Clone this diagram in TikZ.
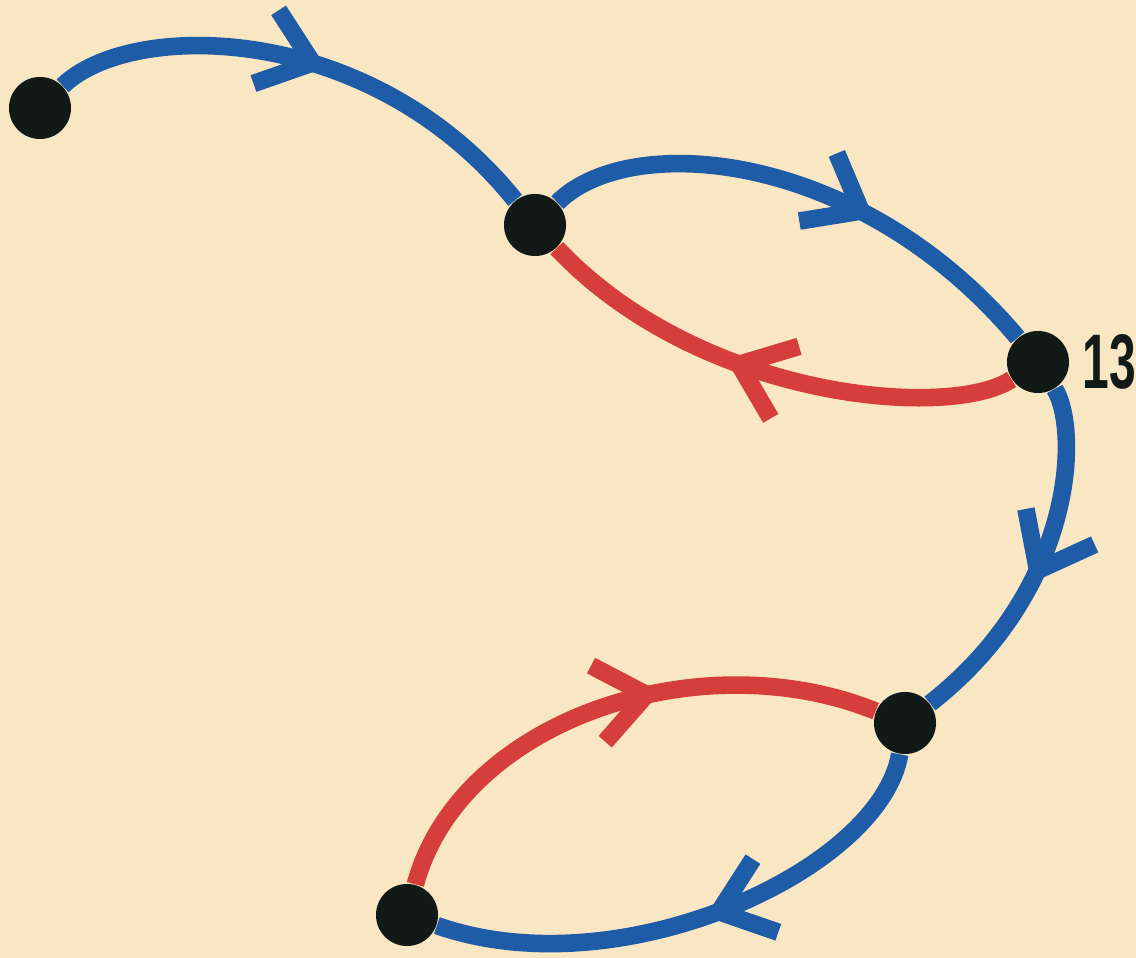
\documentclass[tikz,border=0pt]{standalone}
\usepackage{fontspec}
\setmainfont{Liberation Sans}
\usetikzlibrary{arrows.meta,decorations.markings,positioning}
\definecolor{paper}{RGB}{249,230,194}
\definecolor{pathblue}{RGB}{30,92,168}
\definecolor{pathred}{RGB}{214,62,60}
\definecolor{dotblack}{RGB}{18,26,24}
\tikzset{
  vertex/.style={circle,fill=dotblack,inner sep=0pt,minimum size=0.62cm},
  blueedge/.style={color=pathblue,line width=5pt},
  rededge/.style={color=pathred,line width=5pt},
  midarrow/.style={postaction={decorate},decoration={markings,
    mark=at position #1 with {\arrow{Straight Barb[length=14pt,width=22pt]}}}},
}
\begin{document}
\begin{tikzpicture}[x=0.01cm,y=-0.01cm]
    \useasboundingbox (0,0) rectangle (1136,958);
    \fill[paper] (0,0) rectangle (1136,958);
    \node[vertex] (v1) at (40,108) {};
    \node[vertex] (v2) at (535,225) {};
    \node[vertex] (v3) at (1038,362) {};
    \node[vertex] (v4) at (905,723) {};
    \node[vertex] (v5) at (407,915) {};
    \node[right=0.12cm of v3,inner sep=0pt,text=dotblack,
      font=\bfseries\fontsize{22}{22}\selectfont] (lab13) {\scalebox{0.62}[1]{13}};
    \draw[blueedge,midarrow=0.54] (v1) .. controls (130,20) and (370,20) .. (v2);
    \draw[blueedge,midarrow=0.64] (v2) .. controls (630,130) and (860,150) .. (v3);
    \draw[rededge,midarrow=0.59] (v3) .. controls (950,420) and (700,400) .. (v2);
    \draw[blueedge,midarrow=0.56] (v3) .. controls (1080,430) and (1075,590) .. (v4);
    \draw[rededge,midarrow=0.6] (v5) .. controls (460,720) and (700,640) .. (v4);
    \draw[blueedge,midarrow=0.49] (v4) .. controls (880,870) and (620,990) .. (v5);
\end{tikzpicture}
\end{document}
